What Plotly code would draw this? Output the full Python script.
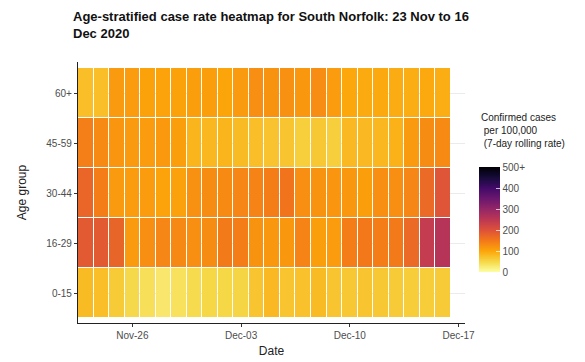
import plotly.graph_objects as go
import pandas as pd

dates = [d.strftime("%Y-%m-%d") for d in pd.date_range("2020-11-23", "2020-12-16", freq="D")]
age_groups = ["0-15", "16-29", "30-44", "45-59", "60+"]

rate_0_15 = [78, 75, 62, 48, 40, 30, 38, 45, 50, 50, 52, 68, 80, 68, 72, 78, 68, 65, 68, 65, 62, 60, 60, 62]
rate_16_29 = [188, 188, 175, 112, 125, 135, 132, 125, 128, 148, 145, 120, 115, 115, 138, 108, 110, 145, 150, 145, 148, 168, 240, 258]
rate_30_44 = [173, 145, 112, 110, 110, 102, 105, 122, 128, 130, 135, 138, 145, 155, 125, 120, 118, 115, 108, 125, 125, 135, 168, 195]
rate_45_59 = [143, 130, 118, 112, 110, 113, 108, 85, 82, 85, 78, 75, 70, 68, 58, 65, 58, 80, 80, 82, 88, 112, 128, 130]
rate_60p = [75, 75, 112, 110, 103, 102, 103, 108, 108, 100, 112, 125, 120, 122, 115, 127, 110, 98, 95, 96, 93, 92, 96, 92]

z = [rate_0_15, rate_16_29, rate_30_44, rate_45_59, rate_60p]

cbar_vals = [0, 100, 200, 300, 400, 500]
cbar_text = ["0", "100", "200", "300", "400", "500+"]
x_ticks = ["2020-11-26", "2020-12-03", "2020-12-10", "2020-12-17"]

# viridis "inferno", reversed (0 = pale yellow, max = black)
inferno = ["#000004", "#160B39", "#420A68", "#6A176E", "#932667", "#BC3754",
           "#DD513A", "#F37819", "#FCA50A", "#F6D746", "#FCFFA4"]
colorscale = [[i / 10, c] for i, c in enumerate(reversed(inferno))]

FONT = "Liberation Sans, Arial, sans-serif"

# plot area in pixels: x 78..465, y 62..323
PW, PH = 387.0, 261.0

fig = go.Figure(go.Heatmap(
    x=dates, y=age_groups, z=z,
    zmin=0, zmax=500,
    colorscale=colorscale,
    xgap=1, ygap=1,
    colorbar=dict(
        x=(479 - 78) / PW, xanchor="left", xpad=0,
        y=(323 - 219.5) / PH, yanchor="middle", ypad=0,
        lenmode="pixels", len=105, thickness=21,
        outlinewidth=0,
        tickvals=cbar_vals, ticktext=cbar_text,
        ticks="inside", ticklen=4, tickcolor="rgba(255,255,255,0.7)",
        tickfont=dict(family=FONT, size=10, color="#4D4D4D"),
    ),
    hovertemplate="%{x}<br>%{y}: %{z}<extra></extra>",
))

fig.update_layout(
    width=585, height=362,
    margin=dict(l=78, r=120, t=62, b=39, autoexpand=False),
    paper_bgcolor="white", plot_bgcolor="white",
    font=dict(family=FONT, color="#4D4D4D"),
    xaxis=dict(
        type="date", automargin=False,
        range=["2020-11-22 12:00", "2020-12-17 10:00"],
        tickvals=x_ticks, tickformat="%b-%d",
        ticks="outside", ticklen=3, tickcolor="#333333",
        showline=True, linecolor="#222222", linewidth=1.2,
        showgrid=False, zeroline=False,
        tickfont=dict(family=FONT, size=10, color="#4D4D4D"),
        title=dict(text="Date", font=dict(family=FONT, size=12, color="#222222"), standoff=6),
    ),
    yaxis=dict(
        type="category", automargin=False,
        range=[-0.6, 4.62],
        ticks="outside", ticklen=3, tickcolor="#333333",
        showline=True, linecolor="#222222", linewidth=1.2,
        showgrid=True, gridcolor="#EBEBEB", gridwidth=1,
        zeroline=False,
        tickfont=dict(family=FONT, size=10, color="#4D4D4D"),
        title=dict(text="Age group", font=dict(family=FONT, size=12, color="#222222"), standoff=17),
    ),
    annotations=[
        dict(
            text="<b>Age-stratified case rate heatmap for South Norfolk: 23 Nov to 16<br>Dec 2020</b>",
            xref="paper", yref="paper",
            x=(71 - 78) / PW, xanchor="left",
            y=(323 - 7) / PH, yanchor="top",
            showarrow=False, align="left",
            font=dict(family=FONT, size=13, color="#111111"),
        ),
        dict(
            text="Confirmed cases<br> per 100,000<br> (7-day rolling rate)",
            xref="paper", yref="paper",
            x=(479 - 78) / PW, xanchor="left",
            y=(323 - 110) / PH, yanchor="top",
            showarrow=False, align="left",
            font=dict(family=FONT, size=10, color="#222222"),
        ),
    ],
)

fig.write_html(
    "out.html",
    config={"displayModeBar": False},
    post_script="document.body.style.margin='0';document.body.style.padding='0';",
)
